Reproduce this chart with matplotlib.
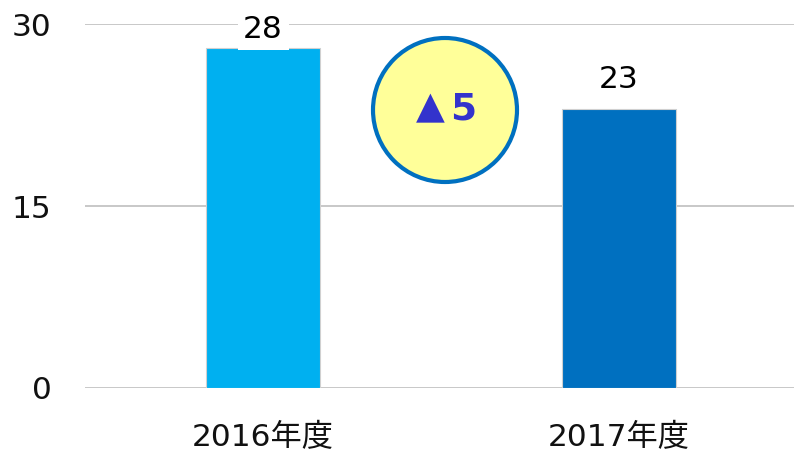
import matplotlib.pyplot as plt
from matplotlib.patches import Circle

plt.rcParams['font.family'] = ['DejaVu Sans', 'Noto Sans CJK JP']

years = ['2016年度', '2017年度']
values = [28, 23]
colors = ['#00B0F0', '#0070C0']
diff_mark = '▲'
diff_value = '5'

fig = plt.figure(figsize=(7.94, 4.53), dpi=100)
ax = fig.add_axes([0.1071, 0.1435, 0.8967, 0.8035])

x = range(len(years))
ax.bar(x, values, width=0.32, color=colors, edgecolor='#d0d0d0', linewidth=0.8, zorder=2)
ax.set_xlim(-0.5, 1.5)
ax.set_ylim(0, 30)
ax.set_yticks([0, 15, 30])
ax.set_xticks(list(x))
ax.set_xticklabels(years)
ax.yaxis.grid(True, color='#bfbfbf', linewidth=1.2, zorder=0)
ax.set_axisbelow(True)
for s in ax.spines.values():
    s.set_visible(False)
ax.tick_params(axis='both', length=0, labelsize=22.5, colors='#111111')
ax.tick_params(axis='y', pad=24)
ax.tick_params(axis='x', pad=25)

# data labels
ax.text(0, values[0] + 1.55, str(values[0]), ha='center', va='center', fontsize=22.5,
        bbox=dict(facecolor='white', edgecolor='none', pad=4), zorder=3)
ax.text(1, values[1] + 2.4, str(values[1]), ha='center', va='center', fontsize=22.5, zorder=3)

# difference bubble
circ = Circle((4.45, 3.43), 0.72, transform=fig.dpi_scale_trans,
              facecolor='#FFFF99', edgecolor='#0070C0', linewidth=3, zorder=5)
fig.patches.append(circ)
fig.text(4.30 / 7.94, 3.45 / 4.53, diff_mark, ha='center', va='center',
         fontsize=27, color='#3333CC', zorder=6)
fig.text(4.63 / 7.94, 3.43 / 4.53, diff_value, ha='center', va='center',
         fontsize=27, fontweight='bold', color='#3333CC', zorder=6)

fig.savefig('out.png', dpi=100)
